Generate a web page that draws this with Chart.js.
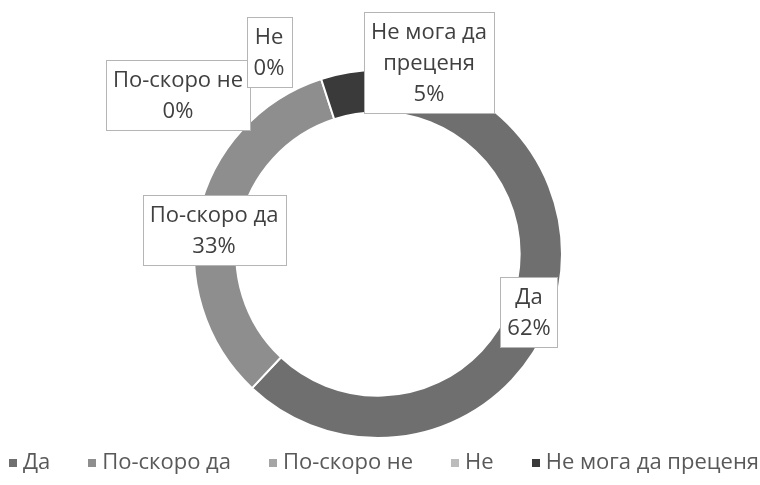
<!DOCTYPE html>
<html>
<head>
<meta charset="utf-8">
<script src="https://cdn.jsdelivr.net/npm/chart.js@4.4.1/dist/chart.umd.min.js"></script>
<style>
  html, body { margin: 0; padding: 0; background: #fff; }
  #wrap { width: 760px; height: 485px; }
</style>
</head>
<body>
<div id="wrap"><canvas id="answerChart"></canvas></div>
<script>
const categories = ['Да', 'По-скоро да', 'По-скоро не', 'Не', 'Не мога да преценя'];
const shares = [62, 33, 0, 0, 5];
const labelLines = [['Да'], ['По-скоро да'], ['По-скоро не'], ['Не'], ['Не мога да', 'преценя']];

const sliceColors = ['#6f6f6f', '#8e8e8e', '#a5a5a5', '#bcbcbc', '#3a3a3a'];
// where the label boxes sit, relative to the doughnut centre
const labelShift = [[151, 58], [-164, -24], [-200, -159], [-109, -202], [51, -192]];

const FONT = '22px "Open Sans"';
const LINE_H = 31;

const boxLabels = {
    id: 'boxLabels',
    afterDatasetsDraw(chart) {
        const ctx = chart.ctx;
        const arcs = chart.getDatasetMeta(0).data;
        ctx.save();
        ctx.font = FONT;
        ctx.textAlign = 'center';
        ctx.textBaseline = 'middle';
        arcs.forEach((arc, i) => {
            const lines = labelLines[i].concat([shares[i] + '%']);
            const cx = arc.x + labelShift[i][0];
            const cy = arc.y + labelShift[i][1];
            const w = Math.max(...lines.map(l => ctx.measureText(l).width)) + 14;
            const h = lines.length * LINE_H + 8;
            const x0 = Math.round(cx - w / 2) + 0.5, y0 = Math.round(cy - h / 2) + 0.5;
            ctx.fillStyle = '#ffffff';
            ctx.fillRect(x0, y0, Math.round(w), Math.round(h));
            ctx.strokeStyle = '#b5b5b5';
            ctx.lineWidth = 1;
            ctx.strokeRect(x0, y0, Math.round(w), Math.round(h));
            ctx.fillStyle = '#404040';
            lines.forEach((l, k) => {
                ctx.fillText(l, cx, y0 + 4 + LINE_H * (k + 0.5) + 1);
            });
        });
        ctx.restore();
    }
};

const bottomLegend = {
    id: 'bottomLegend',
    afterDraw(chart) {
        const ctx = chart.ctx;
        const sq = 8, gapText = 6, gapItem = 38;
        ctx.save();
        ctx.font = FONT;
        ctx.textBaseline = 'middle';
        const widths = categories.map(c => sq + gapText + ctx.measureText(c).width);
        const total = widths.reduce((a, b) => a + b, 0) + gapItem * (categories.length - 1);
        let x = 384 - total / 2;
        const y = 463;
        categories.forEach((c, i) => {
            ctx.fillStyle = sliceColors[i];
            ctx.fillRect(Math.round(x), y - sq / 2, sq, sq);
            ctx.fillStyle = '#595959';
            ctx.fillText(c, x + sq + gapText, y);
            x += widths[i] + gapItem;
        });
        ctx.restore();
    }
};

new Chart(document.getElementById('answerChart'), {
    type: 'doughnut',
    data: {
        labels: categories,
        datasets: [{
            data: shares,
            backgroundColor: sliceColors,
            borderColor: '#ffffff',
            borderWidth: 2
        }]
    },
    options: {
        responsive: true,
        maintainAspectRatio: false,
        animation: false,
        cutout: '77%',
        layout: { padding: { top: 69, bottom: 46, left: 0, right: 4 } },
        plugins: {
            legend: { display: false },
            tooltip: { enabled: false }
        }
    },
    plugins: [boxLabels, bottomLegend]
});
</script>
</body>
</html>
